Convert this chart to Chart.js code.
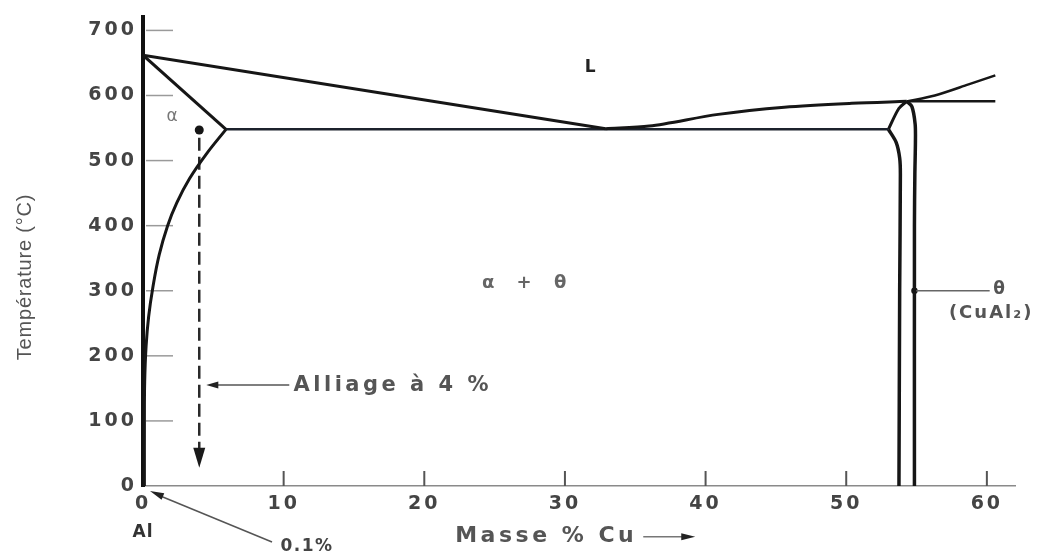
<!DOCTYPE html>
<html><head><meta charset="utf-8">
<script src="https://cdn.jsdelivr.net/npm/chart.js@4.4.1/dist/chart.umd.min.js"></script>
<style>html,body{margin:0;padding:0;background:#fff;}canvas{display:block;}</style>
</head><body>
<canvas id="c" width="1056" height="554"></canvas>
<script>
// ---- tick labels ----
const xTickValues = [0, 10, 20, 30, 40, 50, 60];
const yTickValues = [0, 100, 200, 300, 400, 500, 600, 700];

// ---- phase boundaries (x = mass % Cu, T = °C) ----
const liquidusLeftX = [0, 32.9];
const liquidusLeftT = [662, 549];
const liquidusRightX = [32.9, 36.0, 40.9, 45.6, 50.4, 54.3];
const liquidusRightT = [549, 553, 571, 582, 588, 591];
const solidusX = [0, 5.9];
const solidusT = [662, 548];
const eutecticX = [5.9, 53.0];
const eutecticT = [548, 548];
const solvusAlX = [5.9, 4.5, 3.3, 2.4, 1.75, 1.15, 0.7, 0.4, 0.22, 0.12, 0.1, 0.1];
const solvusAlT = [548, 510, 472, 435, 400, 355, 305, 260, 215, 160, 100, 0];
const thetaUpperLeftX = [53.0, 53.74, 54.3];
const thetaUpperLeftT = [548, 580, 591];
const thetaLeftX = [53.0, 53.55, 53.8, 53.85, 53.8, 53.75];
const thetaLeftT = [548, 528, 504, 479, 300, 0];
const thetaRightX = [54.3, 54.67, 54.9, 54.92, 54.88, 54.85, 54.85];
const thetaRightT = [591, 583, 556, 528, 479, 400, 0];
const thetaLiquidusX = [54.3, 56.3, 58.7, 60.6];
const thetaLiquidusT = [591, 600, 617, 631];
const thetaFlatX = [54.3, 60.6];
const thetaFlatT = [591, 591];
// alloy 4 % Cu cooling path
const alloyX = [4, 4];
const alloyT = [535, 45];
const alloyStartX = [4];
const alloyStartT = [547];
// theta pointer
const thetaPtrX = [54.85, 60.2];
const thetaPtrT = [300, 300];

const pts = (xs, ts) => xs.map((x, i) => ({x: x, y: ts[i]}));
const INK = '#161616';

function ds(xs, ts, extra) {
  return Object.assign({data: pts(xs, ts), showLine: true, borderColor: INK, borderWidth: 3,
    pointRadius: 0, fill: false, tension: 0}, extra || {});
}

const datasets = [
  ds(liquidusLeftX, liquidusLeftT),
  ds(liquidusRightX, liquidusRightT, {tension: 0.3}),
  ds(solidusX, solidusT),
  ds(eutecticX, eutecticT, {borderWidth: 2.5, borderColor: '#1c222c'}),
  ds(solvusAlX, solvusAlT, {tension: 0.4}),
  ds(thetaUpperLeftX, thetaUpperLeftT, {tension: 0.3}),
  ds(thetaLeftX, thetaLeftT, {tension: 0.3, borderWidth: 3.5}),
  ds(thetaRightX, thetaRightT, {tension: 0.3, borderWidth: 3.5}),
  ds(thetaLiquidusX, thetaLiquidusT, {tension: 0.3, borderWidth: 2.5}),
  ds(thetaFlatX, thetaFlatT, {borderWidth: 2.5}),
  ds(alloyX, alloyT, {borderWidth: 2.5, borderColor: '#2a2a2a', borderDash: [13, 6]}),
  {data: pts(alloyStartX, alloyStartT), showLine: false, pointRadius: 4.5, pointBackgroundColor: INK, pointBorderWidth: 0},
  ds(thetaPtrX, thetaPtrT, {borderWidth: 1.3, borderColor: '#666'}),
  {data: pts([54.85], [300]), showLine: false, pointRadius: 3.2, pointBackgroundColor: INK, pointBorderWidth: 0}
];

function arrowHead(ctx, tx, ty, ang, len, half) {
  ctx.beginPath();
  ctx.moveTo(tx, ty);
  ctx.lineTo(tx - len * Math.cos(ang) + half * Math.sin(ang), ty - len * Math.sin(ang) - half * Math.cos(ang));
  ctx.lineTo(tx - len * Math.cos(ang) - half * Math.sin(ang), ty - len * Math.sin(ang) + half * Math.cos(ang));
  ctx.closePath();
  ctx.fill();
}

const tickSpacing = {
  id: 'tickSpacing',
  beforeDraw(chart) { chart.ctx.letterSpacing = '3px'; }
};

const decor = {
  id: 'decor',
  beforeDatasetsDraw(chart) {
    const ctx = chart.ctx, xs = chart.scales.x, ys = chart.scales.y;
    ctx.save();
    ctx.letterSpacing = '0px';
    ctx.strokeStyle = '#9a9a9a'; ctx.lineWidth = 1.5;
    ys.ticks.forEach(t => {
      if (t.value === 0) return;
      const y = ys.getPixelForValue(t.value);
      ctx.beginPath(); ctx.moveTo(xs.left + 3, y); ctx.lineTo(xs.left + 30, y); ctx.stroke();
    });
    ctx.strokeStyle = '#555'; ctx.lineWidth = 2;
    xs.ticks.forEach(t => {
      if (t.value === 0) return;
      const x = xs.getPixelForValue(t.value);
      ctx.beginPath(); ctx.moveTo(x, ys.bottom); ctx.lineTo(x, ys.bottom - 15); ctx.stroke();
    });
    ctx.restore();
  },
  afterDraw(chart) {
    const ctx = chart.ctx, xs = chart.scales.x, ys = chart.scales.y;
    const X = v => xs.getPixelForValue(v), Y = v => ys.getPixelForValue(v);
    ctx.save();
    ctx.fillStyle = '#1a1a1a';
    arrowHead(ctx, X(4), Y(28), Math.PI / 2, 20, 6);
    ctx.strokeStyle = '#555'; ctx.lineWidth = 1.5;
    ctx.beginPath(); ctx.moveTo(X(10.4), Y(155)); ctx.lineTo(X(5.2), Y(155)); ctx.stroke();
    ctx.fillStyle = '#222';
    arrowHead(ctx, X(4.5), Y(155), Math.PI, 12, 3.5);
    const ax0 = 150, ay0 = ys.bottom + 5, ax1 = 272, ay1 = ys.bottom + 56;
    ctx.beginPath(); ctx.moveTo(ax0 + 8, ay0 + 4); ctx.lineTo(ax1, ay1); ctx.stroke();
    const ang = Math.atan2(ay0 - ay1, ax0 - ax1);
    arrowHead(ctx, ax0, ay0, ang, 14, 3.5);

    ctx.textBaseline = 'middle';
    function txt(s, x, y, font, color, align, spacing) {
      ctx.font = font; ctx.fillStyle = color; ctx.textAlign = align || 'left';
      ctx.letterSpacing = (spacing || 0) + 'px';
      ctx.fillText(s, x, y);
      return ctx.measureText(s).width;
    }
    txt('L', X(31.8), Y(643), 'bold 17px "DejaVu Sans"', '#222', 'center');
    txt('α', X(2.07), Y(567), '17px "DejaVu Sans"', '#777', 'center');
    txt('α + θ', X(27.1) + 4, Y(311), 'bold 18px "DejaVu Sans"', '#666', 'center', 8);
    txt('Alliage à 4 %', X(10.7), Y(155), 'bold 21px "DejaVu Sans"', '#555', 'left', 3.5);
    txt('θ', X(60.87), Y(302), 'bold 17px "DejaVu Sans"', '#555', 'center');
    txt('(CuAl₂)', X(57.3), Y(266), 'bold 18px "DejaVu Sans"', '#555', 'left', 2);
    txt('Al', X(0), Y(-72), 'bold 17px "DejaVu Sans"', '#333', 'center', 1);
    txt('0.1%', X(9.77), Y(-93), 'bold 17px "DejaVu Sans"', '#444', 'left', 1.5);
    const w = txt('Masse % Cu', X(22.2), Y(-78), 'bold 22px "DejaVu Sans"', '#555', 'left', 3.5);
    const ex = X(22.2) + w + 6;
    ctx.strokeStyle = '#777'; ctx.lineWidth = 1.3;
    ctx.beginPath(); ctx.moveTo(ex, Y(-78)); ctx.lineTo(ex + 40, Y(-78)); ctx.stroke();
    ctx.fillStyle = '#222';
    arrowHead(ctx, ex + 52, Y(-78), 0, 14, 3.5);
    ctx.save();
    ctx.translate(25, 277);
    ctx.rotate(-Math.PI / 2);
    txt('Température (°C)', 0, 0, '20px "Liberation Sans"', '#555', 'center', 0.8);
    ctx.restore();
    ctx.restore();
  }
};

new Chart(document.getElementById('c'), {
  type: 'scatter',
  data: {datasets: datasets},
  options: {
    responsive: false,
    animation: false,
    layout: {padding: {top: 16, right: 41, left: 0, bottom: 0}},
    plugins: {legend: {display: false}, tooltip: {enabled: false}},
    scales: {
      x: {
        type: 'linear', min: 0, max: 62,
        afterFit(s) { s.height = 68; },
        afterBuildTicks(s) { s.ticks = xTickValues.map(v => ({value: v})); },
        grid: {display: false, drawTicks: false},
        border: {display: true, color: '#8a8a8a', width: 1.5},
        ticks: {padding: 7, color: '#444', font: {family: 'DejaVu Sans', size: 19, weight: 'bold'}}
      },
      y: {
        type: 'linear', min: 0, max: 720,
        afterFit(s) { s.width = 143; },
        afterBuildTicks(s) { s.ticks = yTickValues.map(v => ({value: v})); },
        grid: {display: false, drawTicks: false},
        border: {display: true, color: '#111', width: 4},
        ticks: {padding: 6, color: '#444', font: {family: 'DejaVu Sans', size: 19, weight: 'bold'}}
      }
    }
  },
  plugins: [tickSpacing, decor]
});
</script>
</body></html>
